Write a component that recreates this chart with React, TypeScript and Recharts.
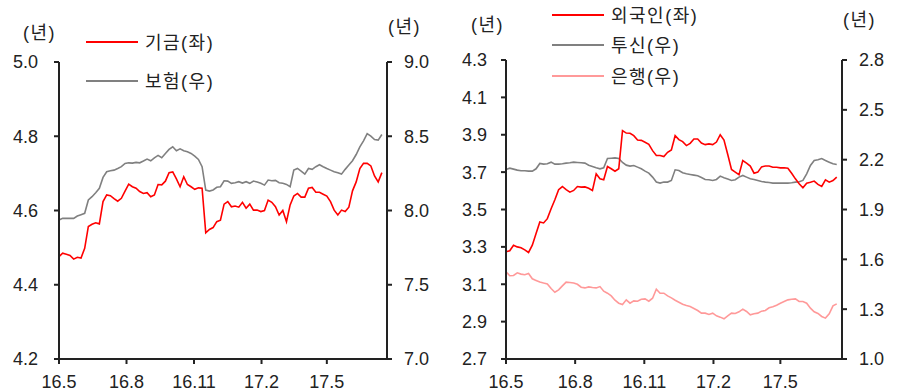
import { LineChart, Line, XAxis, YAxis } from "recharts";

// x = days since 2016-05-01, one reading every 5 days
const monthTicks = [0, 92, 184, 276, 365];
const monthLabels = ["16.5", "16.8", "16.11", "17.2", "17.5"];

// 기금 (left axis, years)
const fund = [
  4.476, 4.485, 4.482, 4.479, 4.469, 4.474, 4.472, 4.498, 4.557, 4.563,
  4.567, 4.564, 4.624, 4.642, 4.64, 4.632, 4.625, 4.633, 4.652, 4.671,
  4.664, 4.66, 4.651, 4.646, 4.648, 4.637, 4.642, 4.67, 4.669, 4.679,
  4.702, 4.704, 4.685, 4.664, 4.691, 4.67, 4.664, 4.657, 4.661, 4.66,
  4.54, 4.549, 4.554, 4.57, 4.574, 4.617, 4.624, 4.61, 4.612, 4.609,
  4.622, 4.606, 4.617, 4.601, 4.601, 4.597, 4.6, 4.628, 4.622, 4.61,
  4.588, 4.6, 4.57, 4.615, 4.639, 4.646, 4.636, 4.636, 4.66, 4.662,
  4.649, 4.649, 4.644, 4.639, 4.624, 4.601, 4.588, 4.601, 4.597, 4.609,
  4.653, 4.677, 4.713, 4.727, 4.727, 4.72, 4.693, 4.677, 4.702,
];

// 보험 (right axis, years)
const insurance = [
  7.936, 7.947, 7.947, 7.947, 7.947, 7.963, 7.972, 7.981, 8.071, 8.093,
  8.12, 8.149, 8.223, 8.261, 8.268, 8.272, 8.283, 8.295, 8.317, 8.321,
  8.319, 8.324, 8.321, 8.333, 8.346, 8.335, 8.355, 8.371, 8.355, 8.384,
  8.411, 8.429, 8.402, 8.415, 8.402, 8.395, 8.384, 8.366, 8.344, 8.295,
  8.138, 8.131, 8.138, 8.156, 8.16, 8.2, 8.198, 8.183, 8.187, 8.194,
  8.185, 8.194, 8.183, 8.198, 8.192, 8.183, 8.171, 8.205, 8.2, 8.203,
  8.187, 8.183, 8.176, 8.16, 8.272, 8.283, 8.265, 8.245, 8.283, 8.277,
  8.295, 8.308, 8.295, 8.283, 8.272, 8.261, 8.254, 8.245, 8.277, 8.306,
  8.335, 8.377, 8.429, 8.469, 8.518, 8.501, 8.478, 8.474, 8.512,
];

// 외국인 (left axis, years)
const foreign = [
  3.274, 3.279, 3.309, 3.3, 3.295, 3.284, 3.27, 3.309, 3.371, 3.433,
  3.428, 3.451, 3.504, 3.552, 3.606, 3.623, 3.606, 3.593, 3.602, 3.623,
  3.62, 3.621, 3.614, 3.602, 3.691, 3.664, 3.659, 3.73, 3.718, 3.705,
  3.718, 3.922, 3.909, 3.908, 3.895, 3.872, 3.87, 3.86, 3.849, 3.815,
  3.789, 3.789, 3.783, 3.806, 3.819, 3.895, 3.874, 3.863, 3.842, 3.854,
  3.877, 3.877, 3.856, 3.847, 3.851, 3.847, 3.861, 3.9, 3.872, 3.794,
  3.714, 3.7, 3.686, 3.762, 3.748, 3.732, 3.694, 3.7, 3.728, 3.733,
  3.733, 3.726, 3.726, 3.723, 3.723, 3.721, 3.694, 3.664, 3.638, 3.616,
  3.641, 3.646, 3.652, 3.634, 3.623, 3.659, 3.646, 3.655, 3.673,
];

// 투신 (right axis, years)
const trust = [
  2.141, 2.149, 2.143, 2.137, 2.133, 2.133, 2.131, 2.131, 2.145, 2.177,
  2.173, 2.175, 2.185, 2.173, 2.173, 2.175, 2.179, 2.181, 2.185, 2.183,
  2.181, 2.179, 2.167, 2.159, 2.151, 2.145, 2.151, 2.207, 2.209, 2.211,
  2.207, 2.183, 2.167, 2.161, 2.165, 2.155, 2.145, 2.131, 2.119, 2.095,
  2.065, 2.059, 2.065, 2.065, 2.075, 2.139, 2.135, 2.121, 2.115, 2.111,
  2.107, 2.103, 2.093, 2.081, 2.079, 2.075, 2.081, 2.101, 2.091, 2.083,
  2.075, 2.079, 2.095, 2.105, 2.095, 2.085, 2.081, 2.075, 2.069, 2.065,
  2.063, 2.059, 2.059, 2.059, 2.059, 2.059, 2.061, 2.065, 2.067, 2.075,
  2.115, 2.165, 2.195, 2.199, 2.207, 2.195, 2.185, 2.175, 2.171,
];

// 은행 (right axis, years)
const bank = [
  1.525, 1.501, 1.503, 1.519, 1.511, 1.507, 1.515, 1.483, 1.473, 1.463,
  1.457, 1.452, 1.424, 1.402, 1.416, 1.44, 1.463, 1.461, 1.457, 1.45,
  1.432, 1.428, 1.434, 1.43, 1.428, 1.436, 1.408, 1.396, 1.38, 1.354,
  1.336, 1.328, 1.356, 1.336, 1.35, 1.348, 1.36, 1.362, 1.348, 1.366,
  1.42, 1.396, 1.396, 1.38, 1.368, 1.354, 1.342, 1.33, 1.322, 1.316,
  1.304, 1.292, 1.276, 1.276, 1.268, 1.276, 1.26, 1.252, 1.242, 1.26,
  1.276, 1.274, 1.284, 1.3, 1.286, 1.266, 1.272, 1.276, 1.288, 1.292,
  1.308, 1.314, 1.324, 1.336, 1.346, 1.356, 1.36, 1.362, 1.346, 1.346,
  1.336, 1.306, 1.284, 1.274, 1.256, 1.246, 1.272, 1.32, 1.332,
];

const leftData = fund.map((v, i) => ({ day: i * 5, fund: v, insurance: insurance[i] }));
const rightData = foreign.map((v, i) => ({
  day: i * 5,
  foreign: v,
  trust: trust[i],
  bank: bank[i],
}));

const ink = "#222";
const tickStyle = { fill: ink, fontSize: 18 };
const fmt1 = (v: number) => v.toFixed(1);
const fmtMonth = (v: number) => monthLabels[monthTicks.indexOf(v)];

function Label({ x, y, text }: { x: number; y: number; text: string }) {
  return (
    <div
      style={{
        position: "absolute",
        left: x,
        top: y - 11,
        fontSize: 18,
        lineHeight: "22px",
        letterSpacing: 1.5,
        color: ink,
        whiteSpace: "nowrap",
      }}
    >
      {text}
    </div>
  );
}

function LegendItem({ x, y, color, text }: { x: number; y: number; color: string; text: string }) {
  return (
    <>
      <div style={{ position: "absolute", left: x, top: y - 1, width: 52, height: 2, background: color }} />
      <Label x={x + 59} y={y + 1} text={text} />
    </>
  );
}

export default function App() {
  return (
    <div
      style={{
        position: "absolute",
        left: 0,
        top: 0,
        width: 898,
        height: 392,
        background: "#fff",
        fontFamily: "'Liberation Sans', 'Noto Sans CJK KR', sans-serif",
      }}
    >
      <div style={{ position: "absolute", left: 0, top: 0 }}>
        <LineChart width={450} height={392} data={leftData} margin={{ top: 62, right: 0, bottom: 0, left: 0 }}>
          <XAxis
            dataKey="day"
            type="number"
            domain={[0, 447]}
            ticks={monthTicks}
            tickFormatter={fmtMonth}
            interval={0}
            height={33}
            tickSize={5}
            tickMargin={11}
            stroke={ink}
            strokeWidth={2}
            tick={tickStyle}
          />
          <YAxis
            yAxisId="l"
            domain={[4.2, 5.0]}
            ticks={[4.2, 4.4, 4.6, 4.8, 5.0]}
            tickFormatter={fmt1}
            width={59}
            tickSize={5}
            tickMargin={16}
            stroke={ink}
            strokeWidth={2}
            tick={tickStyle}
          />
          <YAxis
            yAxisId="r"
            orientation="right"
            domain={[7, 9]}
            ticks={[7, 7.5, 8, 8.5, 9]}
            tickFormatter={fmt1}
            width={63}
            tickSize={5}
            tickMargin={12}
            stroke={ink}
            strokeWidth={2}
            tick={tickStyle}
          />
          <Line yAxisId="r" type="linear" dataKey="insurance" stroke="#808080" strokeWidth={1.6} dot={false} isAnimationActive={false} />
          <Line yAxisId="l" type="linear" dataKey="fund" stroke="#ff0000" strokeWidth={1.6} dot={false} isAnimationActive={false} />
        </LineChart>
      </div>
      <div style={{ position: "absolute", left: 450, top: 0 }}>
        <LineChart width={448} height={392} data={rightData} margin={{ top: 60, right: 0, bottom: 0, left: 0 }}>
          <XAxis
            dataKey="day"
            type="number"
            domain={[0, 447]}
            ticks={monthTicks}
            tickFormatter={fmtMonth}
            interval={0}
            height={33}
            tickSize={5}
            tickMargin={11}
            stroke={ink}
            strokeWidth={2}
            tick={tickStyle}
          />
          <YAxis
            yAxisId="l"
            domain={[2.7, 4.3]}
            ticks={[2.7, 2.9, 3.1, 3.3, 3.5, 3.7, 3.9, 4.1, 4.3]}
            tickFormatter={fmt1}
            width={56}
            tickSize={5}
            tickMargin={14}
            stroke={ink}
            strokeWidth={2}
            tick={tickStyle}
          />
          <YAxis
            yAxisId="r"
            orientation="right"
            domain={[1.0, 2.8]}
            ticks={[1.0, 1.3, 1.6, 1.9, 2.2, 2.5, 2.8]}
            tickFormatter={fmt1}
            width={56}
            tickSize={5}
            tickMargin={12}
            stroke={ink}
            strokeWidth={2}
            tick={tickStyle}
          />
          <Line yAxisId="r" type="linear" dataKey="bank" stroke="#ff9999" strokeWidth={1.6} dot={false} isAnimationActive={false} />
          <Line yAxisId="r" type="linear" dataKey="trust" stroke="#808080" strokeWidth={1.6} dot={false} isAnimationActive={false} />
          <Line yAxisId="l" type="linear" dataKey="foreign" stroke="#ff0000" strokeWidth={1.6} dot={false} isAnimationActive={false} />
        </LineChart>
      </div>

      <Label x={23} y={33} text="(년)" />
      <Label x={388} y={27} text="(년)" />
      <LegendItem x={86} y={42} color="#ff0000" text="기금(좌)" />
      <LegendItem x={86} y={81} color="#808080" text="보험(우)" />

      <Label x={471} y={25} text="(년)" />
      <Label x={843} y={20} text="(년)" />
      <LegendItem x={552} y={15} color="#ff0000" text="외국인(좌)" />
      <LegendItem x={552} y={45} color="#808080" text="투신(우)" />
      <LegendItem x={552} y={76} color="#ff9999" text="은행(우)" />
    </div>
  );
}
